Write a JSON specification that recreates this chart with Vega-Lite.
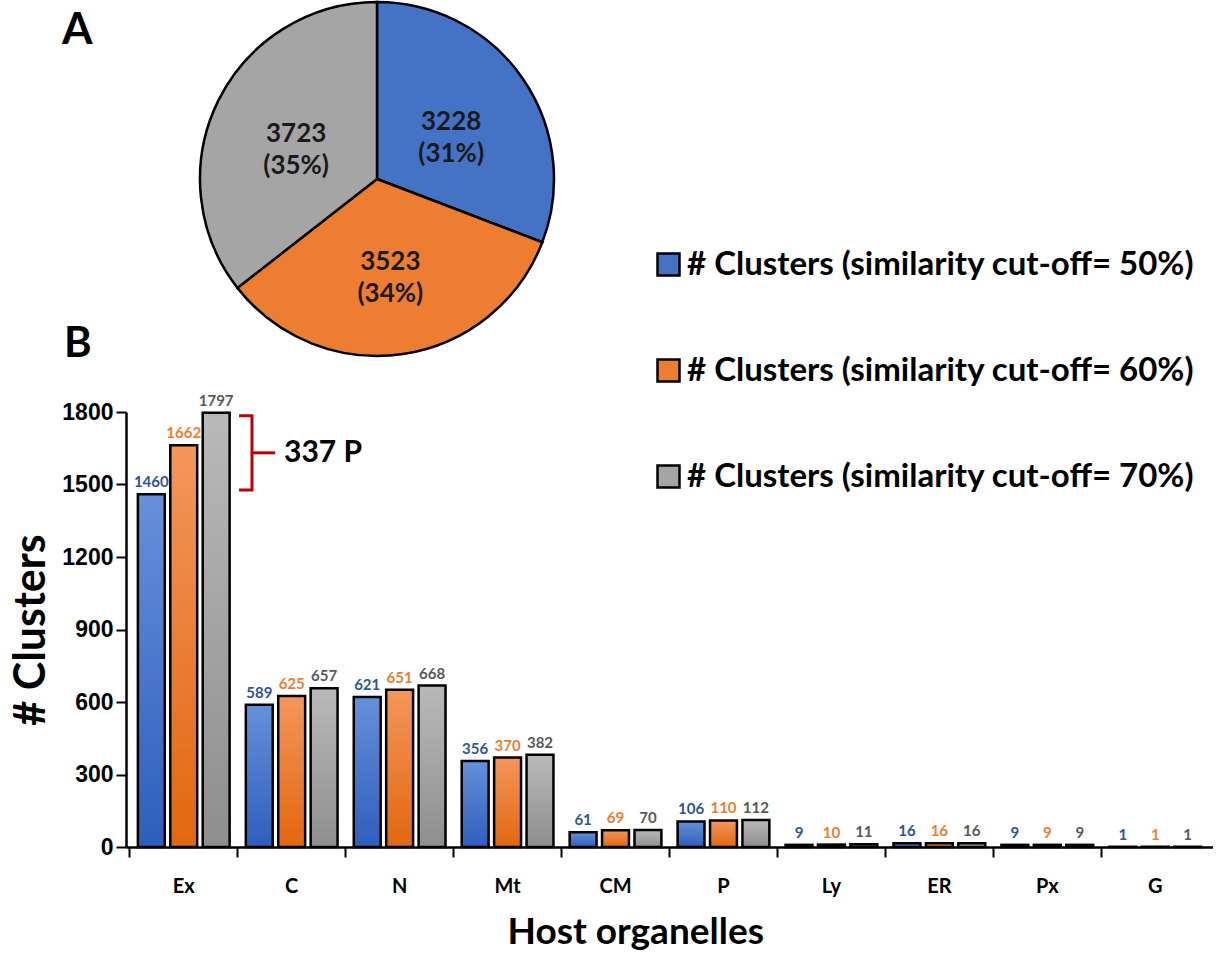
{
  "$schema": "https://vega.github.io/schema/vega-lite/v6.json",
  "background": "white",
  "padding": {"left": 10, "top": -3, "right": 0, "bottom": 0},
  "bounds": "flush",
  "spacing": 55,
  "config": {"view": {"stroke": null}, "font": "Lato"},
  "resolve": {"scale": {"color": "independent"}, "legend": {"color": "independent"}},
  "datasets": {
    "pie": [
      {"series": "# Clusters (similarity cut-off= 50%)", "total": 3228, "ord": 1, "lbl": "3228\n(31%)"},
      {"series": "# Clusters (similarity cut-off= 60%)", "total": 3523, "ord": 2, "lbl": "3523\n(34%)"},
      {"series": "# Clusters (similarity cut-off= 70%)", "total": 3723, "ord": 3, "lbl": "3723\n(35%)"}
    ],
    "bars": [
      {"org": "Ex", "series": "# Clusters (similarity cut-off= 50%)", "value": 1460},
      {"org": "Ex", "series": "# Clusters (similarity cut-off= 60%)", "value": 1662},
      {"org": "Ex", "series": "# Clusters (similarity cut-off= 70%)", "value": 1797},
      {"org": "C", "series": "# Clusters (similarity cut-off= 50%)", "value": 589},
      {"org": "C", "series": "# Clusters (similarity cut-off= 60%)", "value": 625},
      {"org": "C", "series": "# Clusters (similarity cut-off= 70%)", "value": 657},
      {"org": "N", "series": "# Clusters (similarity cut-off= 50%)", "value": 621},
      {"org": "N", "series": "# Clusters (similarity cut-off= 60%)", "value": 651},
      {"org": "N", "series": "# Clusters (similarity cut-off= 70%)", "value": 668},
      {"org": "Mt", "series": "# Clusters (similarity cut-off= 50%)", "value": 356},
      {"org": "Mt", "series": "# Clusters (similarity cut-off= 60%)", "value": 370},
      {"org": "Mt", "series": "# Clusters (similarity cut-off= 70%)", "value": 382},
      {"org": "CM", "series": "# Clusters (similarity cut-off= 50%)", "value": 61},
      {"org": "CM", "series": "# Clusters (similarity cut-off= 60%)", "value": 69},
      {"org": "CM", "series": "# Clusters (similarity cut-off= 70%)", "value": 70},
      {"org": "P", "series": "# Clusters (similarity cut-off= 50%)", "value": 106},
      {"org": "P", "series": "# Clusters (similarity cut-off= 60%)", "value": 110},
      {"org": "P", "series": "# Clusters (similarity cut-off= 70%)", "value": 112},
      {"org": "Ly", "series": "# Clusters (similarity cut-off= 50%)", "value": 9},
      {"org": "Ly", "series": "# Clusters (similarity cut-off= 60%)", "value": 10},
      {"org": "Ly", "series": "# Clusters (similarity cut-off= 70%)", "value": 11},
      {"org": "ER", "series": "# Clusters (similarity cut-off= 50%)", "value": 16},
      {"org": "ER", "series": "# Clusters (similarity cut-off= 60%)", "value": 16},
      {"org": "ER", "series": "# Clusters (similarity cut-off= 70%)", "value": 16},
      {"org": "Px", "series": "# Clusters (similarity cut-off= 50%)", "value": 9},
      {"org": "Px", "series": "# Clusters (similarity cut-off= 60%)", "value": 9},
      {"org": "Px", "series": "# Clusters (similarity cut-off= 70%)", "value": 9},
      {"org": "G", "series": "# Clusters (similarity cut-off= 50%)", "value": 1},
      {"org": "G", "series": "# Clusters (similarity cut-off= 60%)", "value": 1},
      {"org": "G", "series": "# Clusters (similarity cut-off= 70%)", "value": 1}
    ],
    "bracket": [
      {"bx": 1.04, "by": 1785, "o": 1},
      {"bx": 1.159, "by": 1785, "o": 2},
      {"bx": 1.159, "by": 1477, "o": 3},
      {"bx": 1.04, "by": 1477, "o": 4}
    ],
    "tick": [{"bx": 1.159, "bx2": 1.371, "by": 1631}],
    "note": [{"tx": 1.454, "ty": 1631, "t": "337 P"}]
  },
  "vconcat": [
    {
      "width": 502,
      "height": 356,
      "title": {"text": "A", "anchor": "start", "frame": "group", "offset": -56, "dx": -64, "fontSize": 44, "fontWeight": "bold", "font": "Lato", "color": "black"},
      "data": {"name": "pie"},
      "encoding": {
        "theta": {"field": "total", "type": "quantitative", "stack": true},
        "order": {"field": "ord", "type": "quantitative"},
        "color": {
          "field": "series", "type": "nominal",
          "scale": {"domain": ["# Clusters (similarity cut-off= 50%)", "# Clusters (similarity cut-off= 60%)", "# Clusters (similarity cut-off= 70%)"], "range": ["#4472C4", "#ED7D31", "#A5A5A5"]},
          "legend": {"orient": "none", "legendX": 526, "legendY": 247, "title": null, "symbolType": "square", "symbolSize": 484, "symbolStrokeColor": "black", "symbolStrokeWidth": 2.5, "symbolOpacity": 1, "labelFont": "Lato", "labelFontWeight": "bold", "labelFontSize": 33, "labelColor": "black", "labelOffset": 2, "labelLimit": 1000, "rowPadding": 72, "padding": 0}
        }
      },
      "layer": [
        {"mark": {"type": "arc", "outerRadius": 177, "stroke": "black", "strokeWidth": 2.5}},
        {
          "mark": {"type": "text", "radius": 90, "dy": -6, "lineBreak": "\n", "lineHeight": 32, "fontSize": 26, "fontWeight": "bold", "font": "Lato", "align": "center", "baseline": "middle"},
          "encoding": {"text": {"field": "lbl"}, "color": {"value": "#1a1a1a"}}
        }
      ]
    },
    {
      "width": 1087,
      "height": 435,
      "title": {"text": "B", "anchor": "start", "frame": "group", "offset": 28, "dx": -62, "fontSize": 42, "fontWeight": "bold", "font": "Lato", "color": "black"},
      "resolve": {"scale": {"x": "independent"}},
      "layer": [
        {
          "data": {"name": "bars"},
          "encoding": {
            "x": {
              "field": "org", "type": "nominal", "sort": ["Ex", "C", "N", "Mt", "CM", "P", "Ly", "ER", "Px", "G"],
              "scale": {"paddingInner": 0.15, "paddingOuter": 0.11},
              "title": "Host organelles",
              "axis": {"labelFont": "Lato", "labelFontWeight": "bold", "labelFontSize": 20, "labelColor": "black", "labelAngle": 0, "labelPadding": 19, "tickSize": 10, "tickWidth": 2, "tickColor": "black", "domainColor": "black", "domainWidth": 2.5, "bandPosition": -0.088, "titleFont": "Lato", "titleFontSize": 37, "titleFontWeight": "bold", "titleColor": "black", "titlePadding": 18, "titleX": 381, "titleAlign": "left"}
            },
            "xOffset": {"field": "series", "type": "nominal", "scale": {"domain": ["# Clusters (similarity cut-off= 50%)", "# Clusters (similarity cut-off= 60%)", "# Clusters (similarity cut-off= 70%)"], "paddingInner": 0.17, "paddingOuter": 0}},
            "y": {
              "field": "value", "type": "quantitative", "title": "# Clusters",
              "scale": {"domain": [0, 1800]},
              "axis": {"values": [0, 300, 600, 900, 1200, 1500, 1800], "format": "d", "grid": false, "labelFont": "Liberation Sans", "labelFontWeight": "bold", "labelFontSize": 23, "labelColor": "black", "labelPadding": 3, "tickSize": 10, "tickWidth": 2, "tickColor": "black", "domainColor": "black", "domainWidth": 2.5, "titleFont": "Lato", "titleFontSize": 43, "titleFontWeight": "bold", "titleColor": "black", "titlePadding": 8}
            }
          },
          "layer": [
            {
              "transform": [{"filter": "datum.series === '# Clusters (similarity cut-off= 50%)'"}],
              "mark": {"type": "bar", "stroke": "black", "strokeWidth": 2.5, "color": {"gradient": "linear", "x1": 0, "y1": 0, "x2": 0, "y2": 1, "stops": [{"offset": 0, "color": "#6690DA"}, {"offset": 1, "color": "#2E5EBD"}]}}
            },
            {
              "transform": [{"filter": "datum.series === '# Clusters (similarity cut-off= 60%)'"}],
              "mark": {"type": "bar", "stroke": "black", "strokeWidth": 2.5, "color": {"gradient": "linear", "x1": 0, "y1": 0, "x2": 0, "y2": 1, "stops": [{"offset": 0, "color": "#F3965C"}, {"offset": 1, "color": "#E2670F"}]}}
            },
            {
              "transform": [{"filter": "datum.series === '# Clusters (similarity cut-off= 70%)'"}],
              "mark": {"type": "bar", "stroke": "black", "strokeWidth": 2.5, "color": {"gradient": "linear", "x1": 0, "y1": 0, "x2": 0, "y2": 1, "stops": [{"offset": 0, "color": "#B9B9B9"}, {"offset": 1, "color": "#8E8E8E"}]}}
            },
            {
              "mark": {"type": "text", "baseline": "bottom", "dy": -4, "fontSize": 15, "fontWeight": "bold", "font": "Lato"},
              "encoding": {
                "text": {"field": "value", "type": "quantitative"},
                "fill": {
                  "field": "series", "type": "nominal",
                  "scale": {"domain": ["# Clusters (similarity cut-off= 50%)", "# Clusters (similarity cut-off= 60%)", "# Clusters (similarity cut-off= 70%)"], "range": ["#2F5597", "#ED7D31", "#595959"]},
                  "legend": null
                }
              }
            }
          ]
        },
        {
          "data": {"name": "bracket"},
          "mark": {"type": "line", "color": "#C00000", "strokeWidth": 3, "strokeJoin": "miter"},
          "encoding": {
            "x": {"field": "bx", "type": "quantitative", "scale": {"domain": [0, 10]}, "axis": null},
            "y": {"field": "by", "type": "quantitative", "scale": {"domain": [0, 1800]}, "title": "# Clusters"},
            "order": {"field": "o", "type": "quantitative"}
          }
        },
        {
          "data": {"name": "tick"},
          "mark": {"type": "rule", "color": "#C00000", "strokeWidth": 3},
          "encoding": {
            "x": {"field": "bx", "type": "quantitative", "scale": {"domain": [0, 10]}, "axis": null},
            "x2": {"field": "bx2"},
            "y": {"field": "by", "type": "quantitative", "scale": {"domain": [0, 1800]}, "title": "# Clusters"}
          }
        },
        {
          "data": {"name": "note"},
          "mark": {"type": "text", "align": "left", "baseline": "middle", "fontSize": 30, "fontWeight": "bold", "font": "Lato", "color": "black"},
          "encoding": {
            "x": {"field": "tx", "type": "quantitative", "scale": {"domain": [0, 10]}, "axis": null},
            "y": {"field": "ty", "type": "quantitative", "scale": {"domain": [0, 1800]}, "title": "# Clusters"},
            "text": {"field": "t"}
          }
        }
      ]
    }
  ]
}
